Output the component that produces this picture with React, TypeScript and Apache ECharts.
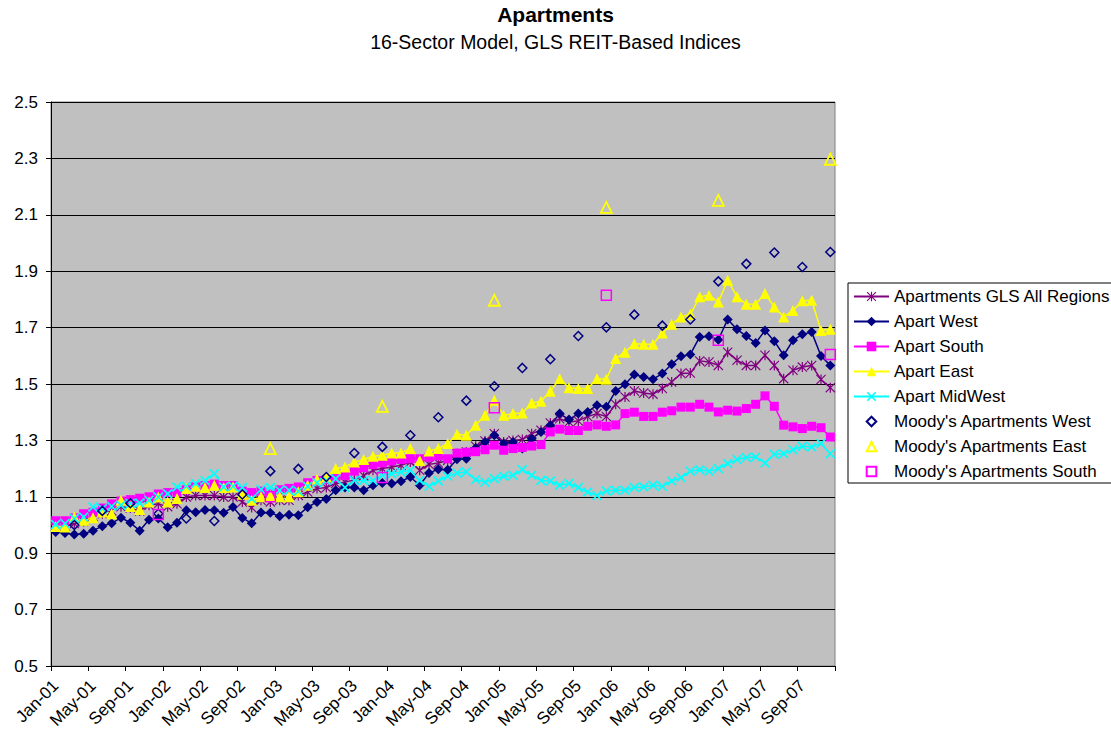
import React, { useEffect, useRef } from 'react';
import * as echarts from 'echarts';

const FONT = '"Liberation Sans", Arial, sans-serif';

const monthNames = ['Jan', 'Feb', 'Mar', 'Apr', 'May', 'Jun', 'Jul', 'Aug', 'Sep', 'Oct', 'Nov', 'Dec'];
const years = ['01', '02', '03', '04', '05', '06', '07'];
const categories = years.flatMap((y) => monthNames.map((m) => `${m}-${y}`));

const yTicks = { min: 0.5, max: 2.5, step: 0.2 };

const glsAllRegions = [
  0.995, 0.995, 1.005, 1.012, 1.03, 1.04, 1.05, 1.065, 1.06, 1.05, 1.07, 1.075,
  1.065, 1.075, 1.099, 1.105, 1.105, 1.105, 1.099, 1.099, 1.082, 1.062, 1.088, 1.082,
  1.088, 1.088, 1.105, 1.117, 1.129, 1.133, 1.147, 1.152, 1.16, 1.175, 1.194, 1.2,
  1.206, 1.212, 1.223, 1.194, 1.215, 1.22, 1.229, 1.253, 1.259, 1.279, 1.298, 1.324,
  1.294, 1.3, 1.303, 1.324, 1.336, 1.362, 1.377, 1.365, 1.369, 1.385, 1.395, 1.385,
  1.428, 1.454, 1.475, 1.468, 1.464, 1.484, 1.507, 1.537, 1.539, 1.582, 1.578, 1.566,
  1.613, 1.584, 1.566, 1.566, 1.602, 1.566, 1.519, 1.549, 1.56, 1.566, 1.516, 1.487,
];

const apartWest = [
  0.975, 0.972, 0.966, 0.969, 0.98, 0.996, 1.006, 1.026, 1.008, 0.98, 1.019, 1.023,
  0.992, 1.008, 1.052, 1.045, 1.053, 1.052, 1.043, 1.064, 1.025, 1.006, 1.044, 1.043,
  1.031, 1.036, 1.035, 1.063, 1.082, 1.092, 1.123, 1.133, 1.133, 1.123, 1.141, 1.149,
  1.147, 1.155, 1.17, 1.141, 1.184, 1.198, 1.196, 1.233, 1.235, 1.273, 1.294, 1.318,
  1.289, 1.294, 1.271, 1.306, 1.33, 1.354, 1.395, 1.374, 1.395, 1.401, 1.425, 1.419,
  1.475, 1.499, 1.534, 1.525, 1.517, 1.537, 1.57, 1.598, 1.605, 1.667, 1.669, 1.657,
  1.729, 1.694, 1.67, 1.645, 1.69, 1.652, 1.602, 1.655, 1.676, 1.684, 1.599, 1.566,
];

const apartSouth = [
  1.015, 1.015, 1.025, 1.04, 1.045, 1.06, 1.075, 1.085, 1.09, 1.095, 1.1, 1.11,
  1.115, 1.115, 1.125, 1.135, 1.14, 1.145, 1.14, 1.14, 1.12, 1.115, 1.12, 1.11,
  1.125, 1.13, 1.135, 1.15, 1.158, 1.161, 1.168, 1.176, 1.191, 1.203, 1.214, 1.22,
  1.227, 1.232, 1.235, 1.235, 1.24, 1.245, 1.235, 1.255, 1.258, 1.26, 1.267, 1.283,
  1.265, 1.271, 1.275, 1.28, 1.285, 1.33, 1.34, 1.335, 1.335, 1.35, 1.355, 1.35,
  1.355, 1.395, 1.4, 1.385, 1.385, 1.4, 1.405, 1.418, 1.418, 1.428, 1.418, 1.401,
  1.407, 1.404, 1.413, 1.428, 1.458, 1.421, 1.354, 1.348, 1.342, 1.35, 1.345, 1.312,
];

const apartEast = [
  0.995, 0.993, 1.028, 1.017, 1.026, 1.046, 1.04, 1.088, 1.066, 1.055, 1.082, 1.099,
  1.082, 1.094, 1.129, 1.137, 1.133, 1.141, 1.133, 1.135, 1.109, 1.088, 1.1, 1.105,
  1.1, 1.1, 1.118, 1.141, 1.162, 1.17, 1.2, 1.206, 1.223, 1.232, 1.244, 1.247,
  1.255, 1.255, 1.271, 1.229, 1.262, 1.271, 1.289, 1.322, 1.318, 1.354, 1.389, 1.442,
  1.389, 1.395, 1.397, 1.433, 1.439, 1.474, 1.519, 1.487, 1.484, 1.484, 1.519, 1.517,
  1.59, 1.613, 1.643, 1.641, 1.641, 1.681, 1.712, 1.738, 1.747, 1.809, 1.815, 1.791,
  1.868, 1.809, 1.783, 1.783, 1.821, 1.773, 1.738, 1.761, 1.795, 1.797, 1.69, 1.694,
];

const apartMidWest = [
  1.002, 1.005, 1.023, 1.028, 1.064, 1.058, 1.066, 1.07, 1.076, 1.078, 1.088, 1.099,
  1.111, 1.135, 1.137, 1.147, 1.158, 1.182, 1.135, 1.137, 1.133, 1.093, 1.126, 1.133,
  1.123, 1.123, 1.12, 1.137, 1.15, 1.158, 1.164, 1.133, 1.158, 1.158, 1.158, 1.176,
  1.182, 1.188, 1.194, 1.158, 1.137, 1.156, 1.173, 1.184, 1.188, 1.161, 1.152, 1.164,
  1.173, 1.176, 1.196, 1.176, 1.158, 1.156, 1.141, 1.147, 1.133, 1.117, 1.105, 1.121,
  1.123, 1.123, 1.133, 1.135, 1.141, 1.137, 1.156, 1.168, 1.191, 1.196, 1.191, 1.2,
  1.218, 1.232, 1.239, 1.241, 1.22, 1.251, 1.253, 1.267, 1.279, 1.277, 1.289, 1.253,
];

const moodysWestDates = [
  'Mar-01', 'Jun-01', 'Sep-01', 'Dec-01', 'Mar-02', 'Jun-02', 'Sep-02', 'Dec-02',
  'Mar-03', 'Jun-03', 'Sep-03', 'Dec-03', 'Mar-04', 'Jun-04', 'Sep-04', 'Dec-04',
  'Mar-05', 'Jun-05', 'Sep-05', 'Dec-05', 'Mar-06', 'Jun-06', 'Sep-06', 'Dec-06',
  'Mar-07', 'Jun-07', 'Sep-07', 'Dec-07',
];
const moodysWest = [
  1.0, 1.05, 1.077, 1.04, 1.023, 1.014, 1.108, 1.191,
  1.199, 1.17, 1.255, 1.277, 1.318, 1.382, 1.441, 1.492,
  1.557, 1.588, 1.67, 1.701, 1.746, 1.707, 1.729, 1.864,
  1.926, 1.966, 1.915, 1.968,
];

const moodysEastDates = ['Dec-02', 'Dec-03', 'Dec-04', 'Dec-05', 'Dec-06', 'Dec-07'];
const moodysEast = [1.271, 1.421, 1.797, 2.126, 2.151, 2.297];

const moodysSouthDates = ['Dec-01', 'Dec-02', 'Dec-03', 'Dec-04', 'Dec-05', 'Dec-06', 'Dec-07'];
const moodysSouth = [1.037, 1.1, 1.168, 1.416, 1.815, 1.655, 1.605];

const toSparse = (dates: string[], vals: number[]) =>
  categories.map((c) => {
    const k = dates.indexOf(c);
    return k >= 0 ? vals[k] : null;
  });

const ASTERISK = 'path://M4.4 0H5.6V10H4.4Z M0 0.8L0.8 0L10 9.2L9.2 10Z M9.2 0L10 0.8L0.8 10L0 9.2Z';
const XMARK = 'path://M0 1.2L1.2 0L10 8.8L8.8 10Z M8.8 0L10 1.2L1.2 10L0 8.8Z';

function lineSeries(name: string, data: number[], color: string, symbol: string, size: number) {
  return {
    name,
    type: 'line',
    data,
    symbol,
    symbolSize: size,
    showSymbol: true,
    showAllSymbol: true,
    lineStyle: { color, width: 1.5 },
    itemStyle: { color, borderWidth: 0 },
    emphasis: { disabled: true },
  };
}

function markerSeries(name: string, data: (number | null)[], color: string, symbol: string, size: number, bw: number) {
  return {
    name,
    type: 'line',
    data,
    symbol,
    symbolSize: size,
    showSymbol: true,
    showAllSymbol: true,
    connectNulls: false,
    lineStyle: { color, width: 1, opacity: 0 },
    itemStyle: { color: 'rgba(0,0,0,0)', borderColor: color, borderWidth: bw },
    emphasis: { disabled: true },
  };
}

export default function App() {
  const ref = useRef<HTMLDivElement>(null);
  useEffect(() => {
    if (!ref.current) return;
    const chart = echarts.init(ref.current, undefined, { renderer: 'svg' });
    chart.setOption({
      animation: false,
      backgroundColor: '#ffffff',
      textStyle: { fontFamily: FONT },
      title: {
        text: 'Apartments',
        subtext: '16-Sector Model, GLS REIT-Based Indices',
        left: 'center',
        top: 4,
        padding: 0,
        itemGap: 7,
        textStyle: { fontSize: 21, fontWeight: 'bold', color: '#000', fontFamily: FONT },
        subtextStyle: { fontSize: 19.5, color: '#000', fontFamily: FONT },
      },
      legend: {
        orient: 'vertical',
        left: 848,
        top: 283,
        padding: [5, 2, 3, 5],
        itemWidth: 35,
        itemHeight: 12,
        itemGap: 8,
        backgroundColor: '#ffffff',
        borderColor: '#000',
        borderWidth: 1,
        selectedMode: false,
        textStyle: { fontSize: 17, color: '#000', fontFamily: FONT },
      },
      grid: {
        left: 51,
        top: 102,
        width: 784,
        height: 564,
        show: true,
        backgroundColor: '#C0C0C0',
        borderColor: '#808080',
        borderWidth: 1,
      },
      xAxis: {
        type: 'category',
        data: categories,
        boundaryGap: true,
        axisLine: { show: true, lineStyle: { color: '#000', width: 1 } },
        axisTick: { show: true, interval: 3, length: 5, lineStyle: { color: '#000' } },
        axisLabel: { interval: 3, rotate: 45, fontSize: 17, color: '#000', margin: 17, fontFamily: FONT },
        splitLine: { show: false },
      },
      yAxis: {
        type: 'value',
        min: yTicks.min,
        max: yTicks.max,
        interval: yTicks.step,
        axisLine: { show: true, lineStyle: { color: '#000', width: 1 } },
        axisTick: { show: true, length: 5, lineStyle: { color: '#000' } },
        axisLabel: {
          fontSize: 17,
          color: '#000',
          margin: 13,
          fontFamily: FONT,
          formatter: (v: number) => v.toFixed(1),
        },
        splitLine: { show: true, lineStyle: { color: '#000', width: 1 } },
      },
      series: [
        lineSeries('Apartments GLS All Regions', glsAllRegions, '#800080', ASTERISK, 10),
        lineSeries('Apart West', apartWest, '#000080', 'diamond', 10),
        lineSeries('Apart South', apartSouth, '#FF00FF', 'rect', 9),
        lineSeries('Apart East', apartEast, '#FFFF00', 'triangle', 11),
        lineSeries('Apart MidWest', apartMidWest, '#00FFFF', XMARK, 10),
        markerSeries("Moody's Apartments West", toSparse(moodysWestDates, moodysWest), '#000080', 'diamond', 9, 1.5),
        markerSeries("Moody's Apartments East", toSparse(moodysEastDates, moodysEast), '#FFFF00', 'triangle', 11, 1.8),
        markerSeries("Moody's Apartments South", toSparse(moodysSouthDates, moodysSouth), '#FF00FF', 'rect', 10, 1.5),
      ],
    });
    return () => chart.dispose();
  }, []);
  return (
    <div
      ref={ref}
      style={{ position: 'fixed', left: 0, top: 0, width: 1111, height: 736, background: '#fff' }}
    />
  );
}
